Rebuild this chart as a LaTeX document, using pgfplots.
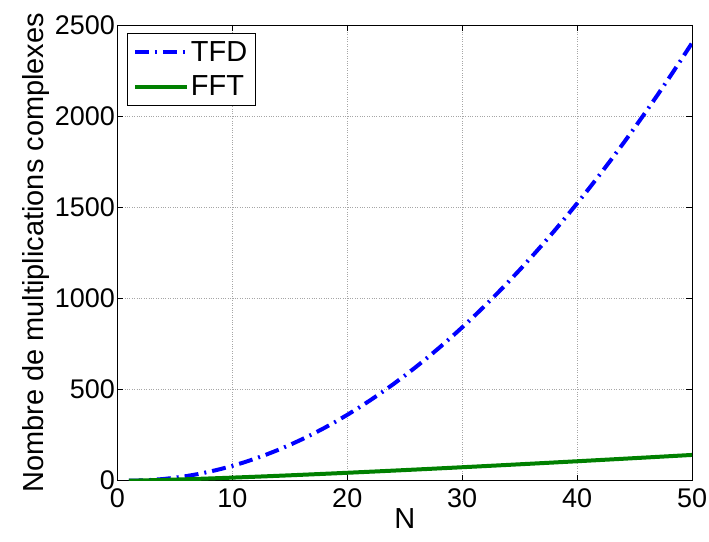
\documentclass[border=0pt]{standalone}
\usepackage{pgfplots}
\pgfplotsset{compat=1.18}
\usepackage{fontspec}
\setmainfont{Liberation Sans}
\definecolor{mgreen}{rgb}{0,0.5,0}
\begin{document}
\begin{tikzpicture}
\begin{axis}[name=ax,
  scale only axis, width=575pt, height=456pt,
  xmin=0, xmax=50, ymin=0, ymax=2500,
  xtick={0,10,20,30,40,50}, ytick={0,500,1000,1500,2000,2500},
  tick align=inside, major tick length=6pt,
  tick style={black, line width=0.6pt},
  axis line style={black, line width=0.8pt},
  grid=major, grid style={gray!70, dotted, line width=0.8pt},
  font=\fontsize{27}{32}\selectfont,
  /pgf/number format/assume math mode=true,
  scaled ticks=false,
  yticklabel style={/pgf/number format/1000 sep={}, xshift=1pt},
  xticklabel style={yshift=-4pt},
  xlabel={N}, ylabel={Nombre de multiplications complexes},
  label style={font=\fontsize{29}{34}\selectfont},
  xlabel style={yshift=6pt},
  ylabel style={yshift=-2pt},
  legend style={at={(axis cs:0.8,2455)}, anchor=north west, draw=black, line width=0.8pt,
    font=\fontsize{29}{34}\selectfont, inner xsep=6pt, inner ysep=6pt, row sep=9pt,
    legend cell align=left,
    /tikz/every even column/.append style={column sep=3pt}},
  legend image code/.code={\draw[#1] (0cm,0cm) -- (52pt,0cm);},
]
\addplot[blue, line width=4pt, dash pattern=on 14pt off 6pt on 2pt off 6pt] coordinates {
(1,0)(2,1)(3,4)(4,9)(5,16)(6,25)(7,36)(8,49)(9,64)(10,81)
(11,100)(12,121)(13,144)(14,169)(15,196)(16,225)(17,256)(18,289)(19,324)(20,361)
(21,400)(22,441)(23,484)(24,529)(25,576)(26,625)(27,676)(28,729)(29,784)(30,841)
(31,900)(32,961)(33,1024)(34,1089)(35,1156)(36,1225)(37,1296)(38,1369)(39,1444)(40,1521)
(41,1600)(42,1681)(43,1764)(44,1849)(45,1936)(46,2025)(47,2116)(48,2209)(49,2304)(50,2401)
};
\addlegendentry{TFD}
\addplot[mgreen, line width=4pt] coordinates {
(1,0)(2,1)(3,2.377)(4,4)(5,5.805)(6,7.755)(7,9.826)(8,12)(9,14.265)(10,16.610)
(11,19.027)(12,21.510)(13,24.053)(14,26.652)(15,29.302)(16,32)(17,34.744)(18,37.529)(19,40.355)(20,43.219)
(21,46.119)(22,49.054)(23,52.021)(24,55.020)(25,58.048)(26,61.105)(27,64.191)(28,67.303)(29,70.441)(30,73.603)
(31,76.790)(32,80)(33,83.232)(34,86.487)(35,89.763)(36,93.059)(37,96.375)(38,99.710)(39,103.065)(40,106.439)
(41,109.830)(42,113.239)(43,116.666)(44,120.108)(45,123.568)(46,127.043)(47,130.533)(48,134.039)(49,137.560)(50,141.096)
};
\addlegendentry{FFT}
\end{axis}
\pgfresetboundingbox
\path[use as bounding box] ([xshift=-117.5pt,yshift=-60.5pt]ax.south west) rectangle ([xshift=17pt,yshift=25pt]ax.north east);
\end{tikzpicture}
\end{document}
